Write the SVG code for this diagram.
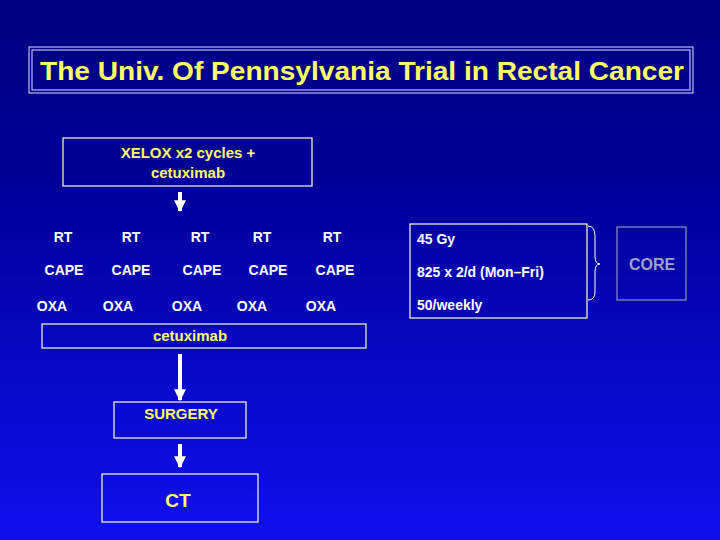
<svg xmlns="http://www.w3.org/2000/svg" width="720" height="540" viewBox="0 0 720 540">
<defs>
<linearGradient id="bg" x1="0" y1="0" x2="0" y2="1">
<stop offset="0" stop-color="#000080"/>
<stop offset="0.35" stop-color="#00009a"/>
<stop offset="1" stop-color="#1010f0"/>
</linearGradient>
<marker id="ah" viewBox="0 0 10 10" refX="9" refY="5" markerWidth="3" markerHeight="3" orient="auto" markerUnits="strokeWidth">
<path d="M0,0 L10,5 L0,10 z" fill="#fff"/>
</marker>
<style>
text{font-family:"Liberation Sans",Arial,sans-serif;font-weight:bold;}
.y{fill:#ffff66;}
.w{fill:#fff;font-size:14px;}
.box{fill:none;stroke:#ffffcc;stroke-width:1.2;}
.arr{stroke:#fff;stroke-width:4;marker-end:url(#ah);}
</style>
</defs>
<rect width="720" height="540" fill="url(#bg)"/>
<g id="title">
<rect x="29" y="47" width="664" height="46" fill="none" stroke="#e0e0ff" stroke-width="1"/>
<rect x="32" y="50" width="658" height="40" fill="none" stroke="#e0e0ff" stroke-width="1"/>
<text x="40" y="80" class="y" font-size="26" textLength="644" lengthAdjust="spacingAndGlyphs">The Univ. Of Pennsylvania Trial in Rectal Cancer</text>
</g>
<g id="xelox">
<rect x="63" y="138" width="249" height="48" class="box"/>
<text x="188" y="158" class="y" font-size="15" text-anchor="middle">XELOX x2 cycles +</text>
<text x="188" y="178" class="y" font-size="15" text-anchor="middle">cetuximab</text>
</g>
<g id="regimen" class="w">
<text x="63" y="242" class="w" text-anchor="middle">RT</text>
<text x="131" y="242" class="w" text-anchor="middle">RT</text>
<text x="200" y="242" class="w" text-anchor="middle">RT</text>
<text x="262" y="242" class="w" text-anchor="middle">RT</text>
<text x="332" y="242" class="w" text-anchor="middle">RT</text>
<text x="64" y="275" class="w" text-anchor="middle">CAPE</text>
<text x="131" y="275" class="w" text-anchor="middle">CAPE</text>
<text x="202" y="275" class="w" text-anchor="middle">CAPE</text>
<text x="268" y="275" class="w" text-anchor="middle">CAPE</text>
<text x="335" y="275" class="w" text-anchor="middle">CAPE</text>
<text x="52" y="311" class="w" font-size="13" text-anchor="middle">OXA</text>
<text x="118" y="311" class="w" font-size="13" text-anchor="middle">OXA</text>
<text x="187" y="311" class="w" font-size="13" text-anchor="middle">OXA</text>
<text x="252" y="311" class="w" font-size="13" text-anchor="middle">OXA</text>
<text x="321" y="311" class="w" font-size="13" text-anchor="middle">OXA</text>
</g>
<g id="cetuximab">
<rect x="42" y="324" width="324" height="24" class="box"/>
<text x="190" y="341" class="y" font-size="15" text-anchor="middle">cetuximab</text>
</g>
<g id="doses">
<rect x="410" y="224" width="177" height="94" class="box"/>
<text x="417" y="244" class="w">45 Gy</text>
<text x="417" y="277" class="w" font-size="13">825 x 2/d (Mon–Fri)</text>
<text x="417" y="310" class="w">50/weekly</text>
</g>
<g id="core">
<rect x="617" y="227" width="69" height="73" fill="none" stroke="#9090c0" stroke-width="1.2"/>
<text x="652" y="270" fill="#a0a0c0" font-size="16" text-anchor="middle">CORE</text>
</g>
<g id="surgery">
<rect x="114" y="402" width="132" height="36" class="box"/>
<text x="181" y="419" class="y" font-size="15" text-anchor="middle">SURGERY</text>
</g>
<g id="ct">
<rect x="102" y="474" width="156" height="48" class="box"/>
<text x="178" y="507" class="y" font-size="19" text-anchor="middle">CT</text>
</g>
<g id="connectors">
<line x1="180" y1="192" x2="180" y2="211" class="arr"/>
<line x1="180" y1="354" x2="180" y2="400" class="arr"/>
<line x1="180" y1="444" x2="180" y2="467" class="arr"/>
<path d="M588,226 Q595,226 595,236 L595,256 Q595,264 600,264 Q595,264 595,272 L595,292 Q595,300 588,300" fill="none" stroke="#fff" stroke-width="1"/>
</g>
</svg>
